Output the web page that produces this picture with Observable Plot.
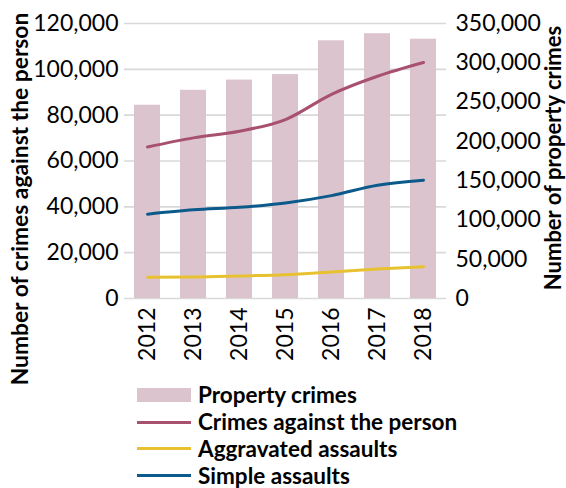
<!DOCTYPE html>
<html>
<head>
<meta charset="utf-8">
<script src="https://cdn.jsdelivr.net/npm/d3@7"></script>
<script src="https://cdn.jsdelivr.net/npm/@observablehq/plot@0.6"></script>
<style>
  html, body { margin: 0; padding: 0; background: #fff; }
  #wrap { position: relative; width: 566px; height: 488px; font-family: Lato, "Liberation Sans", sans-serif; }
  #legend { position: absolute; left: 137px; top: 382px; }
  .row { display: flex; align-items: center; height: 26.8px; font-weight: bold; font-size: 22.5px; line-height: 26px; color: #000; }
  .sw { width: 54px; margin-right: 7px; }
</style>
</head>
<body>
<div id="wrap"></div>
<script>
const years = ["2012", "2013", "2014", "2015", "2016", "2017", "2018"];
const propertyCrimes = [246000, 265000, 278000, 285000, 328000, 337000, 330000];
const crimesAgainstPerson = [66100, 70100, 73000, 78100, 89100, 97000, 103000];
const aggravatedAssaults = [9300, 9400, 9850, 10400, 11600, 12900, 13900];
const simpleAssaults = [36800, 38700, 39800, 41700, 44900, 49400, 51600];
const leftTicks = [0, 20000, 40000, 60000, 80000, 100000, 120000];
const rightTicks = [0, 50000, 100000, 150000, 200000, 250000, 300000, 350000];
const leftMax = 120000, rightMax = 350000;
const leftTitle = "Number of crimes against the person";
const rightTitle = "Number of property crimes";

const colors = {
  "Property crimes": "#dcc4ce",
  "Crimes against the person": "#a8506f",
  "Aggravated assaults": "#e8c131",
  "Simple assaults": "#0b5a8b"
};

const toLeft = v => v * leftMax / rightMax;
const fmt = d3.format(",");

const bars = years.map((y, i) => ({year: y, value: toLeft(propertyCrimes[i])}));
const lineData = [
  ["Crimes against the person", crimesAgainstPerson],
  ["Aggravated assaults", aggravatedAssaults],
  ["Simple assaults", simpleAssaults]
].flatMap(([name, vals]) => years.map((y, i) => ({series: name, year: y, value: vals[i]})));

const font = "Lato, 'Liberation Sans', sans-serif";
const tickFont = 23;
const titleFont = 22.8;

const chart = Plot.plot({
  width: 566,
  height: 488,
  marginLeft: 124,
  marginRight: 120,
  marginTop: 23,
  marginBottom: 190,
  style: {fontFamily: font, fontSize: "23px", color: "#000", background: "#fff", overflow: "visible"},
  x: {domain: years, paddingInner: 0.44, paddingOuter: 0.22, axis: null},
  y: {domain: [0, leftMax], axis: null},
  marks: [
    Plot.gridY(leftTicks, {stroke: "#d9d9d9", strokeOpacity: 1, strokeWidth: 1.6}),
    Plot.barY(bars, {x: "year", y: "value", fill: colors["Property crimes"]}),
    Plot.line(lineData, {x: "year", y: "value", z: "series", stroke: d => colors[d.series], strokeWidth: 3, curve: "monotone-x"}),
    Plot.axisY(leftTicks, {anchor: "left", tickSize: 0, tickPadding: 6, tickFormat: fmt, label: null, fontSize: tickFont}),
    Plot.axisY(rightTicks.map(toLeft), {anchor: "right", tickSize: 0, tickPadding: 9, tickFormat: d => fmt(Math.round(d * rightMax / leftMax)), label: null, fontSize: tickFont}),
    Plot.axisX({tickRotate: -90, tickSize: 0, tickPadding: 9, label: null, fontSize: tickFont}),
    Plot.text([leftTitle], {frameAnchor: "left", dx: -104, dy: 38, rotate: -90, textAnchor: "middle", lineAnchor: "middle", fontWeight: "bold", fontSize: titleFont, text: d => d}),
    Plot.text([rightTitle], {frameAnchor: "right", dx: 107, dy: -3, rotate: -90, textAnchor: "middle", lineAnchor: "middle", fontWeight: "bold", fontSize: 22, text: d => d})
  ]
});

const wrap = document.getElementById("wrap");
wrap.appendChild(chart);

const legend = document.createElement("div");
legend.id = "legend";
const legendItems = [
  ["Property crimes", "bar"],
  ["Crimes against the person", "line"],
  ["Aggravated assaults", "line"],
  ["Simple assaults", "line"]
];
for (const [name, kind] of legendItems) {
  const row = document.createElement("div");
  row.className = "row";
  const sw = document.createElement("div");
  sw.className = "sw";
  sw.style.height = kind === "bar" ? "14px" : "3px";
  sw.style.background = colors[name];
  const t = document.createElement("span");
  t.textContent = name;
  row.appendChild(sw);
  row.appendChild(t);
  legend.appendChild(row);
}
wrap.appendChild(legend);
</script>
</body>
</html>
